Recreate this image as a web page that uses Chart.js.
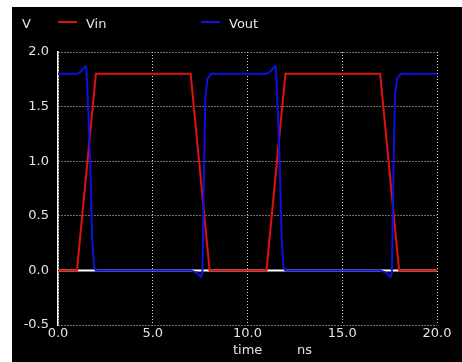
<!DOCTYPE html>
<html>
<head>
<meta charset="utf-8">
<script src="https://cdn.jsdelivr.net/npm/chart.js@4/dist/chart.umd.min.js"></script>
<style>
  html, body { margin: 0; padding: 0; background: #fff; }
  #plot { position: absolute; left: 12px; top: 7px; background: #000; }
</style>
</head>
<body>
<canvas id="plot" width="450" height="355"></canvas>
<script>
// transient sim, ns / volts
var vinTime  = [0, 1, 2, 7, 8, 11, 12, 17, 18, 20];
var vinVolts = [0, 0, 1.8, 1.8, 0, 0, 1.8, 1.8, 0, 0];

var voutTime  = [0, 1.0, 1.2, 1.45, 1.5, 1.6, 1.7, 1.8, 1.9, 2.0, 7.0, 7.3, 7.55, 7.62, 7.7, 7.78, 7.9, 8.1,
                 11.0, 11.2, 11.45, 11.5, 11.6, 11.7, 11.8, 11.9, 12.0, 17.0, 17.3, 17.55, 17.62, 17.7, 17.78, 17.9, 18.1, 20];
var voutVolts = [1.8, 1.8, 1.82, 1.87, 1.85, 1.45, 1.0, 0.3, 0.03, 0, 0, -0.02, -0.06, -0.02, 0.9, 1.6, 1.76, 1.8,
                 1.8, 1.82, 1.87, 1.85, 1.45, 1.0, 0.3, 0.03, 0, 0, -0.02, -0.06, -0.02, 0.9, 1.6, 1.76, 1.8, 1.8];

var zeroTime  = [0, 20];
var zeroVolts = [0, 0];

var xTicks = [0, 5, 10, 15, 20];
var yTicks = [-0.5, 0, 0.5, 1.0, 1.5, 2.0];

var textColor = '#e4e4e4';
var gridColor = '#d8d8d8';

function toPoints(xs, ys) {
  return xs.map(function (x, i) { return { x: x, y: ys[i] }; });
}

// ngspice style header + axis caption
var spiceLabels = {
  id: 'spiceLabels',
  afterDraw: function (chart) {
    var ctx = chart.ctx;
    ctx.save();
    ctx.font = '13px "DejaVu Sans"';
    ctx.fillStyle = textColor;
    ctx.textBaseline = 'alphabetic';
    ctx.fillText('V', 10, 21);

    var legendX = [46, 189];
    chart.data.datasets.forEach(function (ds, i) {
      if (!ds.label) return;
      var lx = legendX[i];
      ctx.strokeStyle = ds.borderColor;
      ctx.lineWidth = 2;
      ctx.beginPath();
      ctx.moveTo(lx, 15);
      ctx.lineTo(lx + 19, 15);
      ctx.stroke();
      ctx.fillStyle = textColor;
      ctx.fillText(ds.label, lx + 28, 21);
    });

    ctx.fillText('time', 221, 347);
    ctx.fillText('ns', 285, 347);
    ctx.restore();
  }
};

new Chart(document.getElementById('plot'), {
  type: 'line',
  data: {
    datasets: [{
      label: 'Vin',
      data: toPoints(vinTime, vinVolts),
      borderColor: '#e01010',
      borderWidth: 2,
      pointRadius: 0,
      order: 2
    }, {
      label: 'Vout',
      data: toPoints(voutTime, voutVolts),
      borderColor: '#1010e0',
      borderWidth: 2,
      pointRadius: 0,
      order: 1
    }, {
      label: '',
      data: toPoints(zeroTime, zeroVolts),
      borderColor: '#ffffff',
      borderWidth: 2,
      pointRadius: 0,
      order: 3
    }]
  },
  options: {
    responsive: false,
    animation: false,
    layout: { padding: { top: 45, right: 25, left: 0, bottom: 0 } },
    plugins: { legend: { display: false }, tooltip: { enabled: false } },
    scales: {
      x: {
        type: 'linear',
        min: 0,
        max: 20,
        afterFit: function (s) { s.height = 37; },
        afterBuildTicks: function (s) { s.ticks = xTicks.map(function (v) { return { value: v }; }); },
        ticks: {
          color: textColor,
          font: { family: 'DejaVu Sans', size: 13 },
          padding: 1,
          maxRotation: 0,
          callback: function (v) { return v.toFixed(1); }
        },
        grid: { color: gridColor, lineWidth: 1, drawTicks: false },
        border: { display: false, dash: [1, 2] }
      },
      y: {
        min: -0.5,
        max: 2.0,
        afterFit: function (s) { s.width = 46; },
        afterBuildTicks: function (s) { s.ticks = yTicks.map(function (v) { return { value: v }; }); },
        ticks: {
          color: textColor,
          font: { family: 'DejaVu Sans', size: 13 },
          padding: 9,
          callback: function (v) { return v.toFixed(1); }
        },
        grid: { color: gridColor, lineWidth: 1, drawTicks: false },
        border: { display: true, color: '#ffffff', width: 1.5, dash: [1, 2] }
      }
    }
  },
  plugins: [spiceLabels]
});
</script>
</body>
</html>
